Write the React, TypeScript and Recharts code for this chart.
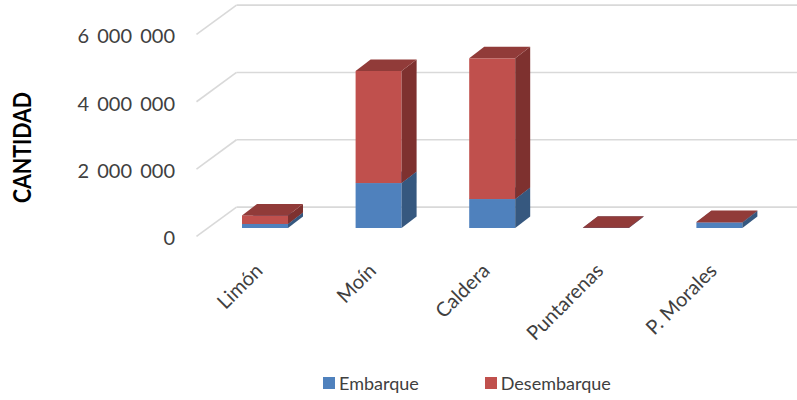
import React from 'react';
import { BarChart, Bar, XAxis, YAxis, CartesianGrid, Legend } from 'recharts';

// Movimiento de carga por puerto
const puertos = ['Limón', 'Moín', 'Caldera', 'Puntarenas', 'P. Morales'];
const embarque = [120000, 1335000, 860000, 0, 165000];
const desembarque = [255000, 3330000, 4180000, 6000, 12000];
const yTicks = [0, 2000000, 4000000, 6000000];
const seriesOrder = ['Embarque', 'Desembarque'];

const data = puertos.map((puerto, i) => ({
  puerto,
  Embarque: embarque[i],
  Desembarque: desembarque[i],
}));

const W = 797;
const H = 400;
const PLOT_LEFT = 208;
const PLOT_RIGHT = 776;
const PLOT_TOP = 26;
const PLOT_BOTTOM = 228;
const Y_AXIS_W = 60;
const X_AXIS_H = 30;

// oblique projection: offsets from the bar plane to the front and back of the floor/wall
const FRONT = { dx: -11.5, dy: 8.4 };
const BACK = { dx: 28.5, dy: -20.9 };
const BAR_DEPTH = { dx: 15, dy: -11.5 };

const FONT = 'Lato, "Open Sans", sans-serif';
const TEXT = '#404040';
const GRID = '#D9D9D9';

const palette = {
  Embarque: { front: '#4F81BD', top: '#41699A', side: '#36587F' },
  Desembarque: { front: '#C0504D', top: '#913B39', side: '#7E312F' },
};

type Faces = { front: string; top: string; side: string };

const Box = ({ x, y, width, height, faces }: any) => {
  const c: Faces = faces;
  const { dx, dy } = BAR_DEPTH;
  const x2 = x + width;
  const y2 = y + height;
  return (
    <g>
      <rect x={x} y={y} width={width} height={Math.max(height, 0)} fill={c.front} />
      <polygon
        points={`${x2},${y} ${x2 + dx},${y + dy} ${x2 + dx},${y2 + dy} ${x2},${y2}`}
        fill={c.side}
      />
      <polygon
        points={`${x},${y} ${x + dx},${y + dy} ${x2 + dx},${y + dy} ${x2},${y}`}
        fill={c.top}
      />
    </g>
  );
};

const gridLine = (p: any) => {
  const { x1, x2, y1 } = p;
  const fx = x1 + FRONT.dx;
  const fy = y1 + FRONT.dy;
  const bx = x1 + BACK.dx;
  const by = y1 + BACK.dy;
  return (
    <g key={`grid-${p.index}-${y1}`}>
      <line x1={fx} y1={fy} x2={bx} y2={by} stroke={GRID} strokeWidth={1.6} />
      <line x1={bx} y1={by} x2={x2 + BACK.dx} y2={by} stroke={GRID} strokeWidth={1.6} />
    </g>
  );
};

const fmt = (v: number) => String(v).replace(/\B(?=(\d{3})+(?!\d))/g, ' ');

const YTick = (p: any) => {
  const { y, payload } = p;
  return (
    <text
      x={PLOT_LEFT - 33}
      y={y + FRONT.dy + 9}
      textAnchor="end"
      fontFamily={FONT}
      fontSize={20}
      wordSpacing={3}
      fill={TEXT}
    >
      {fmt(payload.value)}
    </text>
  );
};

const XTick = (p: any) => {
  const { x, payload } = p;
  return (
    <text
      transform={`translate(${x - 1},${PLOT_BOTTOM + 44}) rotate(-45)`}
      textAnchor="end"
      fontFamily={FONT}
      fontSize={20}
      fill={TEXT}
    >
      {payload.value}
    </text>
  );
};

const AxisTitle = () => (
  <text
    transform={`translate(31,147.5) rotate(-90)`}
    textAnchor="middle"
    fontFamily={FONT}
    fontWeight={700}
    fontSize={24}
    textLength={111}
    lengthAdjust="spacingAndGlyphs"
    fill="#000"
  >
    CANTIDAD
  </text>
);

const LegendContent = (props: any) => {
  const items = [...(props.payload || [])].sort(
    (a: any, b: any) => seriesOrder.indexOf(a.value) - seriesOrder.indexOf(b.value)
  );
  return (
    <div style={{ display: 'flex', paddingLeft: 323, height: 20, alignItems: 'center' }}>
      {items.map((it: any, i: number) => (
        <div
          key={it.value}
          style={{ display: 'flex', alignItems: 'center', marginRight: i === 0 ? 66 : 0 }}
        >
          <span
            style={{ width: 12, height: 12, background: it.color, display: 'inline-block', marginRight: 4 }}
          />
          <span style={{ fontFamily: FONT, fontSize: 18, color: TEXT, lineHeight: '20px' }}>{it.value}</span>
        </div>
      ))}
    </div>
  );
};

export default function App() {
  return (
    <div style={{ position: 'absolute', left: 0, top: 0, width: W, height: H, background: '#fff' }}>
      <BarChart
        width={W}
        height={H}
        data={data}
        barSize={46}
        margin={{
          top: PLOT_TOP,
          right: W - PLOT_RIGHT,
          bottom: H - PLOT_BOTTOM - X_AXIS_H,
          left: PLOT_LEFT - Y_AXIS_W,
        }}
      >
        <CartesianGrid vertical={false} horizontal={gridLine} />
        <XAxis
          dataKey="puerto"
          height={X_AXIS_H}
          axisLine={false}
          tickLine={false}
          interval={0}
          tick={<XTick />}
        />
        <YAxis
          width={Y_AXIS_W}
          domain={[0, 6000000]}
          ticks={yTicks}
          axisLine={false}
          tickLine={false}
          tick={<YTick />}
          label={<AxisTitle />}
        />
        <Legend
          layout="horizontal"
          verticalAlign="middle"
          align="center"
          wrapperStyle={{ top: 373, left: 0, width: W }}
          content={<LegendContent />}
        />
        <Bar
          dataKey="Embarque"
          stackId="carga"
          fill={palette.Embarque.front}
          isAnimationActive={false}
          shape={(p: any) => <Box {...p} faces={palette.Embarque} />}
        />
        <Bar
          dataKey="Desembarque"
          stackId="carga"
          fill={palette.Desembarque.front}
          isAnimationActive={false}
          shape={(p: any) => <Box {...p} faces={palette.Desembarque} />}
        />
      </BarChart>
    </div>
  );
}
